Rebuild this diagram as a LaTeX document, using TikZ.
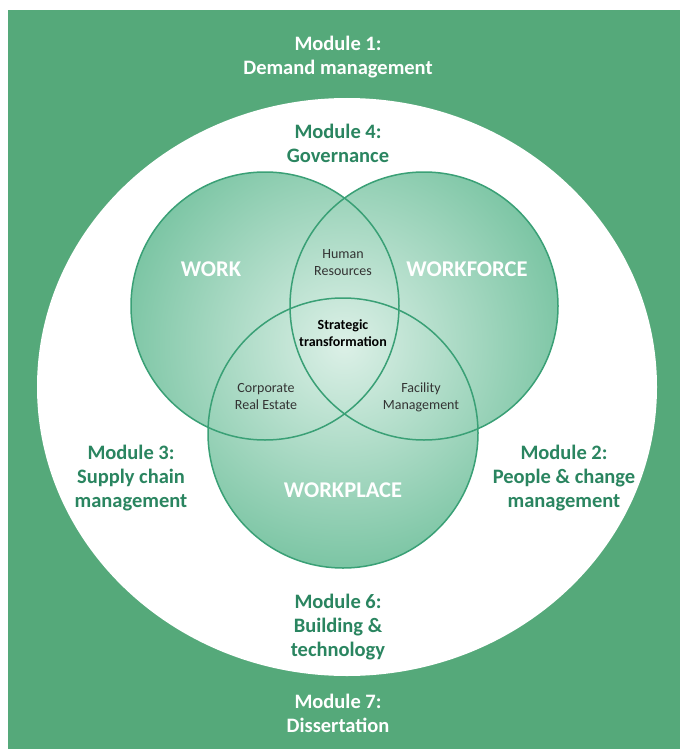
\documentclass[tikz,border=0pt]{standalone}
\usepackage{fontspec}
\setmainfont{Carlito}
\definecolor{bggreen}{RGB}{85,169,122}
\definecolor{txtgreen}{RGB}{42,133,96}
\definecolor{vline}{RGB}{58,160,118}
\definecolor{vlight}{RGB}{220,240,231}
\definecolor{vdark}{RGB}{112,192,156}
\begin{document}
\begin{tikzpicture}[x=1pt,y=-1pt,
  modw/.style={font=\fontsize{20.5}{24}\selectfont\bfseries, text=white, align=center, inner sep=0pt},
  modg/.style={modw, text=txtgreen},
  big/.style={font=\fontsize{22.5}{26}\selectfont\bfseries, text=white, inner sep=0pt},
  small/.style={font=\fontsize{14}{17}\selectfont, text=black!80, align=center, inner sep=0pt},
  smallb/.style={font=\fontsize{14}{16.5}\selectfont\bfseries, text=black, align=center, inner sep=0pt},
  venn/.style={draw=vline, line width=1.5pt}]
\useasboundingbox (0,0) rectangle (680,749);
\fill[white] (0,0) rectangle (680,749);
\fill[bggreen] (8,10) rectangle (680,749);
\fill[white] (347,387) ellipse (310pt and 289pt);
% Venn circles with shading
\coordinate (cwork) at (265,306);
\coordinate (cforce) at (424,306);
\coordinate (cplace) at (343,433);
\coordinate (vc) at (344,345);
\begin{scope}
  \clip (cwork) circle (134pt) (cforce) circle (134pt) (cplace) circle (135pt);
  \shade[inner color=vlight, outer color=vdark] (vc) circle (250pt);
\end{scope}
\draw[venn] (cwork) circle (134pt);
\draw[venn] (cforce) circle (134pt);
\draw[venn] (cplace) circle (135pt);
% labels
\node[modw] (m1) at (338,57) {Module 1:\\Demand management};
\node[modg] (m4) at (338,143) {Module 4:\\Governance};
\node[modg] (m3) at (131,478) {Module 3:\\Supply chain\\management};
\node[modg] (m2) at (564,478) {Module 2:\\People \& change\\management};
\node[modg] (m6) at (338,627) {Module 6:\\Building \&\\technology};
\node[modw] (m7) at (338,713) {Module 7:\\Dissertation};
\node[big] (work) at (211,269) {WORK};
\node[big] (force) at (467,269) {WORKFORCE};
\node[big] (place) at (343,490) {WORKPLACE};
\node[small] (hr) at (343,263) {Human\\Resources};
\node[smallb] (st) at (343,333) {Strategic\\transformation};
\node[small] (cre) at (266,397) {Corporate\\Real Estate};
\node[small] (fm) at (421,397) {Facility\\Management};
\end{tikzpicture}
\end{document}
